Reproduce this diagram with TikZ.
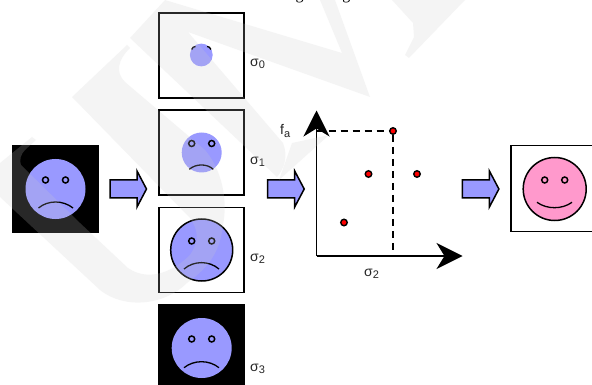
\documentclass[tikz,border=0pt]{standalone}
\usepackage{fontspec}
\setmainfont{Liberation Sans}
\newfontfamily\titlecut[BoldFont={Liberation Serif}]{Liberation Serif}
\usetikzlibrary{arrows.meta}
\definecolor{faceblue}{HTML}{9999FF}
\definecolor{facepink}{HTML}{FF99CC}
\definecolor{wm}{gray}{0.8}
\tikzset{
  x=1pt,y=-1pt,
  imgbox/.style={draw=black,line width=1.5pt,fill=white,minimum size=85pt,inner sep=0pt,outer sep=0pt},
  darkbox/.style={draw=black,fill=black,minimum size=86.5pt,inner sep=0pt,outer sep=0pt},
  blockarrow/.style={draw=black,fill=faceblue,line width=1.5pt,miter limit=10},
  lab/.style={font=\fontsize{14}{16}\selectfont,text=black!85,inner sep=0pt},
  datapt/.style={circle,draw=black,fill=red,line width=1.4pt,minimum size=6.5pt,inner sep=0pt},
  wmark/.style={fill=wm,fill opacity=0.2},
  axis/.style={line width=1.5pt,-{Stealth[length=26pt,width=26pt,inset=8pt]}},
  guide/.style={line width=1.4pt,dash pattern=on 7pt off 5pt},
  mouth/.style={line width=1.3pt},
  eye/.style={line width=1.5pt},
}
\newcommand{\smiley}[6]{% x,y,r,fill,outline width,mouth
  \fill[#4] (#1,#2) circle[radius=#3];
  \ifdim #5pt>0pt \draw[line width=#5pt] (#1,#2) circle[radius=#3]; \fi
  \draw[eye,fill=#4] (#1-10,#2-9) circle[radius=3];
  \draw[eye,fill=#4] (#1+10,#2-9) circle[radius=3];
  \draw[mouth] #6;
}
\newcommand{\blockarrowat}[1]{%
  \draw[blockarrow] (#1-18.3,180) -- (#1+8.7,180) -- (#1+8.7,171) -- (#1+18.2,189) -- (#1+8.7,207) -- (#1+8.7,198) -- (#1-18.3,198) -- cycle;
}
\newcommand{\sg}[1]{σ\raisebox{-2.5pt}{\fontsize{11}{12}\selectfont #1}}
\begin{document}
\begin{tikzpicture}
\useasboundingbox (0,0) rectangle (592,385);
\fill[white] (0,0) rectangle (592,385);
%
\node[darkbox] (src) at (55,188.7) {};
\node[imgbox] (s0) at (201.3,55.3) {};
\node[imgbox] (s1) at (201.3,152.5) {};
\node[imgbox] (s2) at (201.3,249.8) {};
\node[darkbox] (s3) at (201.2,347.5) {};
\node[imgbox,minimum size=86pt,line width=1.4pt,anchor=west] (out) at (511,188.7) {};
% title fragment cut by the top edge
\node[font=\titlecut\fontsize{16}{18}\selectfont\bfseries,inner sep=0pt,anchor=base] (title) at (323,0) {g\hspace{39pt}g};
% faces
\smiley{55.5}{189}{30}{faceblue}{0}{(38.5,208) .. controls (48,200) and (63,200) .. (73,208)}
\fill[faceblue] (201.3,55) circle[radius=11.4];
\draw[mouth] (191.7,49.5) .. controls (192.5,47.5) and (193.5,46.5) .. (195.5,46.5);
\draw[mouth] (210.9,49.5) .. controls (210.1,47.5) and (209.1,46.5) .. (207.1,46.5);
\smiley{201.7}{152.5}{20}{faceblue}{0}{(189.3,169.3) .. controls (196,163.5) and (207,163.5) .. (213.3,169.3)}
\smiley{201.7}{250}{31}{faceblue}{1.5}{(184,269) .. controls (194,260.5) and (209,260.5) .. (219,269)}
\smiley{201.7}{348}{30}{faceblue}{0}{(184,367.7) .. controls (194,359.7) and (209,359.7) .. (219,367.7)}
\smiley{554.7}{189}{31.5}{facepink}{1.5}{(537,202.3) .. controls (547,209.5) and (562,209.5) .. (572,202.3)}
% arrows
\blockarrowat{128.3}
\blockarrowat{286}
\blockarrowat{480.7}
% plot
\coordinate (o) at (316.5,256);
\coordinate (yt) at (316.5,110.5);
\coordinate (xt) at (462.5,256);
\draw[axis] (o) -- (yt);
\draw[axis] (o) -- (xt);
\node[datapt] (p1) at (393,131) {};
\node[datapt] (p2) at (368.5,174) {};
\node[datapt] (p3) at (417,174) {};
\node[datapt] (p4) at (344,222.5) {};
\coordinate (yg) at (316.5,131);
\coordinate (xg) at (393,253);
\draw[guide] (yg) -- (p1);
\draw[guide] (p1) -- (xg);
% labels
\node[lab,anchor=west] (l0) at (250,64) {\sg{0}};
\node[lab,anchor=west] (l1) at (250,162) {\sg{1}};
\node[lab,anchor=west] (l2) at (250,259) {\sg{2}};
\node[lab,anchor=west] (l3) at (250,369) {\sg{3}};
\node[lab,anchor=west] (fa) at (280,131) {f\raisebox{-2.5pt}{\fontsize{11}{12}\selectfont a}};
\node[lab,anchor=west] (lx) at (364,274) {\sg{2}};
% watermark
\fill[wmark] (0,163) -- (32,137) -- (36,140) -- (25,150) .. controls (21,154) and (19,160) .. (21,165)
  -- (80,223) -- (128,268) .. controls (150,283) and (175,270) .. (190,255) .. controls (200,240) and (198,230) .. (190,218)
  -- (72,97) -- (127,45) -- (130,48) .. controls (118,60) and (115,72) .. (125,82)
  -- (205,150) .. controls (222,170) and (228,200) .. (223,225) .. controls (220,255) and (205,270) .. (187,283)
  .. controls (165,305) and (125,310) .. (100,290) -- (0,197) -- cycle;
\fill[wmark] (130,38) -- (165,0) -- (342,53) -- (320,0) -- (335,0) -- (370,97) -- (188,32) -- (283,143)
  .. controls (288,155) and (285,168) .. (277,177) -- cycle;
\fill[wmark] (279,180) -- (329,135) -- (292,143) -- cycle;
\fill[wmark] (392,0) -- (413,23) -- (414,37) -- (405,55) -- (409,58) -- (465,0) -- cycle;
\end{tikzpicture}
\end{document}
